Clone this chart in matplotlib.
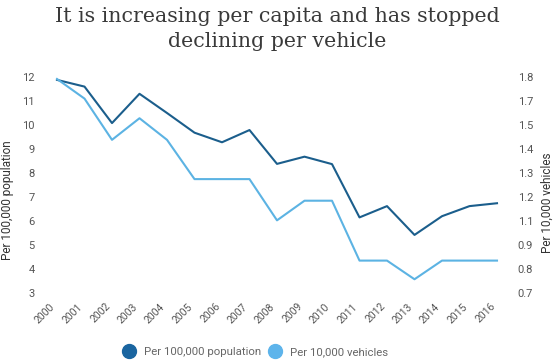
import numpy as np
import matplotlib.pyplot as plt
import matplotlib.transforms as mtransforms
from matplotlib.lines import Line2D

years = list(range(2000, 2017))
per_population = [11.88, 11.6, 10.08, 11.3, 10.5, 9.68, 9.28, 9.79, 8.38, 8.68, 8.37,
                  6.15, 6.62, 5.42, 6.2, 6.62, 6.74]
per_vehicles = [1.79, 1.69, 1.48, 1.59, 1.48, 1.28, 1.28, 1.28, 1.07, 1.17, 1.17,
                0.865, 0.865, 0.77, 0.865, 0.865, 0.865]
left_ticks = list(range(3, 13))
right_tick_labels = ['0.7', '0.8', '0.9', '1.1', '1.2', '1.3', '1.4', '1.5', '1.7', '1.8']

dark = '#1b5e8c'
light = '#5cb3e3'
tick_color = '#555555'

W, H = 555, 361
fig = plt.figure(figsize=(W / 100, H / 100), dpi=100)
ax = fig.add_axes([57 / W, (H - 293) / H, 440 / W, 216 / H])
ax2 = ax.twinx()

ax.plot(years, per_population, color=dark, lw=1.5, clip_on=False)
ax2.plot(years, per_vehicles, color=light, lw=1.5, clip_on=False)

ax.set_xlim(2000, 2016)
ax.set_ylim(3, 12)
ax2.set_ylim(0.7, 1.8)

ax.set_yticks(left_ticks)
ax.set_yticklabels([str(t) for t in left_ticks], fontsize=8, color=tick_color, family='Roboto')
ax2.set_yticks(np.linspace(0.7, 1.8, len(right_tick_labels)))
ax2.set_yticklabels(right_tick_labels, fontsize=8, color=tick_color, family='Roboto')
ax.set_xticks(years)
ax.set_xticklabels([str(y) for y in years], rotation=45, ha='right', fontsize=7.5,
                   color=tick_color, family='Roboto')
shift = mtransforms.ScaledTranslation(4 / 100, -2 / 100, fig.dpi_scale_trans)
for lbl in ax.get_xticklabels():
    lbl.set_transform(lbl.get_transform() + shift)

for a in (ax, ax2):
    for s in a.spines.values():
        s.set_visible(False)
    a.tick_params(length=0)
ax.tick_params(axis='y', pad=16)
ax.tick_params(axis='x', pad=6)
ax2.tick_params(axis='y', pad=15)

fig.text(8 / W, 1 - 200 / H, 'Per 100,000 population', rotation=90, ha='center', va='center',
         fontsize=8.5, color='#333333', family='Roboto')
fig.text(547 / W, 1 - 203 / H, 'Per 10,000 vehicles', rotation=90, ha='center', va='center',
         fontsize=8.5, color='#333333', family='Roboto')

fig.text(0.5, 1 - 29 / H, 'It is increasing per capita and has stopped\ndeclining per vehicle',
         ha='center', va='center', fontsize=14.8, family='DejaVu Serif', color='#3a3a3a',
         linespacing=1.35)

handles = [Line2D([], [], marker='o', ls='', color='#1a65a0', markersize=10),
           Line2D([], [], marker='o', ls='', color='#5db4eb', markersize=10)]
leg = fig.legend(handles, ['Per 100,000 population', 'Per 10,000 vehicles'],
                 loc='center', bbox_to_anchor=(255 / W, 1 - 352 / H), ncol=2, frameon=False,
                 prop={'family': 'Roboto', 'size': 8.2}, handletextpad=0.75, columnspacing=0.6,
                 handlelength=1.2)
for t in leg.get_texts():
    t.set_color('#666666')

fig.savefig('out.png', dpi=100)
